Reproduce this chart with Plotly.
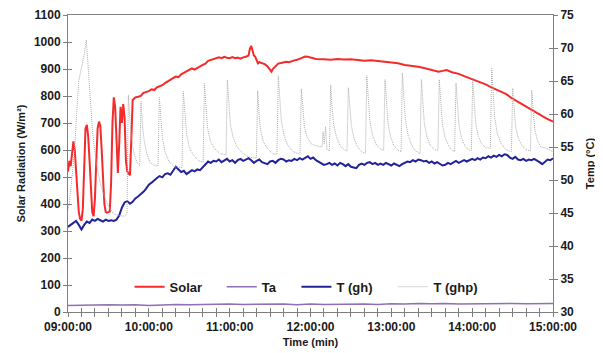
import pandas as pd
import plotly.graph_objects as go

# ---------------- data (minutes after 09:00) ----------------
solar_t = [0, 1, 2, 3, 4, 5, 6, 7, 8, 9, 10, 11, 12, 13, 14, 15, 16, 17, 18, 19, 20, 21, 22, 23, 24, 25,
           26, 27, 28, 29, 30, 31, 32, 33, 34, 35, 36, 37, 38, 39, 40, 41, 42, 43, 44, 45, 46, 47, 48, 49,
           50, 52, 54, 56, 58, 60, 62, 64, 66, 68, 70, 72, 74, 76, 78, 80, 82, 84, 86, 88, 90, 92, 94, 96,
           98, 100, 102, 104, 106, 108, 110, 112, 114, 116, 118, 120, 122, 124, 126, 128, 130, 132, 134,
           135, 136, 137, 138, 139, 140, 141, 142, 144, 146, 148, 150, 151, 152, 154, 156, 158, 160, 162,
           164, 166, 168, 170, 172, 174, 176, 178, 180, 182, 184, 190, 195, 200, 205, 210, 215, 220, 225,
           230, 235, 240, 245, 250, 255, 260, 265, 270, 275, 278, 281, 285, 290, 295, 300, 305, 310, 315,
           320, 325, 330, 335, 340, 345, 350, 355, 360]
solar_v = [520, 560, 540, 600, 632, 600, 520, 430, 370, 345, 338, 380, 560, 680, 693, 650, 560, 450, 370,
           355, 420, 560, 680, 705, 690, 600, 480, 400, 370, 368, 370, 372, 480, 700, 795, 760, 640, 515,
           620, 760, 700, 770, 720, 560, 520, 515, 507, 640, 785, 790, 795, 797, 800, 812, 816, 818, 825,
           822, 832, 835, 840, 848, 855, 860, 866, 872, 870, 880, 885, 890, 895, 902, 898, 905, 910, 915,
           920, 930, 933, 938, 940, 943, 940, 945, 942, 940, 944, 940, 942, 938, 943, 945, 950, 975, 985,
           965, 950, 945, 930, 921, 925, 922, 918, 910, 895, 890, 900, 910, 920, 922, 926, 927, 925, 930,
           932, 934, 938, 942, 946, 945, 942, 940, 937, 936, 934, 937, 935, 936, 933, 931, 932, 929, 927,
           922, 921, 915, 912, 908, 903, 897, 890, 893, 896, 888, 882, 872, 862, 855, 843, 830, 818, 808,
           790, 775, 762, 748, 730, 717, 705]

ta_t = [0, 10, 20, 30, 40, 50, 60, 70, 80, 90, 100, 110, 120, 130, 140, 150, 160, 170, 180, 190, 200,
        210, 220, 230, 240, 250, 260, 270, 280, 290, 300, 310, 320, 330, 340, 350, 360]
ta_v = [31.0, 31.05, 31.0, 31.1, 31.05, 31.1, 31.0, 31.1, 31.15, 31.1, 31.15, 31.1, 31.2, 31.15, 31.2,
        31.15, 31.2, 31.1, 31.2, 31.15, 31.2, 31.25, 31.2, 31.15, 31.25, 31.2, 31.3, 31.25, 31.3, 31.2,
        31.25, 31.3, 31.25, 31.3, 31.25, 31.3, 31.3]

gh_t = list(range(0, 362, 2))
gh_v = [42.9, 43.2, 43.6, 43.8, 43.2, 42.5, 43.2, 43.7, 43.5, 44.0, 43.8, 44.1, 43.9, 43.7, 44.0, 43.8,
        43.9, 43.8, 44.0, 44.6, 45.8, 46.6, 46.8, 46.4, 46.7, 47.2, 47.5, 47.8, 48.2, 48.7, 49.3, 49.6,
        50.0, 50.3, 50.6, 50.4, 50.9, 51.0, 50.8, 51.4, 52.0, 51.6, 51.2, 51.4, 50.9, 51.2, 51.5, 51.3,
        51.6, 51.5, 51.9, 52.4, 52.8, 52.6, 52.9, 52.8, 53.1, 52.7, 52.9, 53.2, 52.8, 53.0, 52.6, 53.0,
        53.2, 52.9, 53.1, 53.3, 53.0, 52.6, 52.9, 53.1, 52.7, 52.5, 52.4, 52.8, 52.9, 52.6, 53.0, 53.2,
        53.1, 52.8, 53.0, 52.9, 53.2, 53.0, 53.3, 53.1, 53.4, 53.6, 53.2, 53.4, 53.0, 52.8, 52.6, 52.3,
        52.4, 52.6, 52.3, 52.5, 52.2, 52.6, 52.4, 52.1, 52.4, 52.0, 51.9, 51.8, 52.3, 52.5, 52.3, 52.6,
        52.7, 52.4, 52.6, 52.3, 52.5, 52.3, 52.6, 52.4, 52.2, 52.5, 52.3, 52.1, 52.4, 52.6, 52.8, 52.7,
        53.0, 52.8, 53.1, 53.0, 52.8, 52.9, 52.6, 52.8, 52.5, 52.7, 52.4, 52.2, 52.3, 52.6, 52.4, 52.7,
        52.9, 52.6, 52.8, 53.0, 52.8, 53.0, 53.2, 53.0, 53.3, 53.1, 53.4, 53.3, 53.6, 53.4, 53.7, 53.5,
        53.8, 53.6, 53.9, 53.8, 53.4, 53.2, 53.5, 53.1, 53.0, 53.2, 52.9, 53.1, 53.0, 53.2, 53.0, 52.7,
        52.4, 52.8, 53.1, 53.0, 53.3]

ghp_t = [0, 1, 3, 5, 7, 8, 10, 12, 13.6, 15, 16.5, 18, 19.5, 21.5, 24, 27, 30, 34, 38, 42, 43.8, 44.8,
         45.8, 47, 49, 51.5, 53.2, 54.2, 55.2, 56.5, 58.5, 61, 64, 66.8, 67.8, 68.8, 70, 72, 75, 79, 84.6,
         85.6, 86.6, 88, 90, 93, 97, 100.3, 101.3, 102.3, 103.5, 105.5, 108.5, 113, 117.3, 118.3, 119.3,
         120.5, 122.5, 125.5, 130, 134, 139.8, 140.8, 141.8, 143, 145, 148, 152, 155.1, 156.1, 157.1,
         158.3, 160.3, 163, 167, 172.2, 173.2, 174.2, 175.5, 177.5, 180.5, 184, 188.5, 189.3, 190.2,
         191.2, 192.2, 194, 195, 196, 197.3, 199.3, 202, 205, 207.1, 208.1, 209.1, 210.3, 212.3, 215, 218,
         220.8, 221.8, 222.8, 224, 226, 229, 232, 234.3, 235.3, 236.3, 237.5, 239.5, 242, 245, 247.2,
         248.2, 249.2, 250.4, 252.4, 255, 258, 261.3, 262.3, 263.3, 264.5, 266.5, 269, 272, 274.6, 275.6,
         276.6, 277.8, 279.8, 282.5, 285, 287, 288, 289, 290.2, 292.2, 295, 298, 299.4, 300.4, 301.4,
         302.6, 304.6, 307, 310, 313.5, 314.5, 315.5, 316.7, 318.7, 321.5, 325, 329.1, 330.1, 331.1, 332.3,
         334.3, 337, 340, 343.2, 344.2, 345.2, 346.4, 348.4, 351, 355, 360]
ghp_v = [45.5, 46.5, 50.5, 55.0, 62.0, 65.0, 67.0, 69.0, 71.2, 66.5, 62.5, 58.0, 55.0, 52.0, 49.5, 47.5,
         46.0, 44.8, 44.6, 44.5, 45.0, 62.9, 59.5, 56.5, 54.0, 52.5, 52.2, 61.9, 58.5, 56.0, 54.0, 52.6,
         52.2, 52.1, 62.5, 59.0, 56.5, 54.3, 52.8, 52.0, 51.9, 63.4, 60.0, 57.0, 55.0, 53.8, 52.9, 52.7,
         64.6, 61.0, 58.0, 56.0, 54.8, 54.0, 53.8, 65.2, 61.5, 58.5, 56.5, 55.0, 54.0, 53.5, 53.3, 63.5,
         60.0, 57.5, 55.8, 54.8, 54.0, 53.9, 65.8, 62.0, 59.0, 56.8, 55.3, 54.3, 53.9, 63.8, 60.5, 58.0,
         56.5, 55.5, 55.2, 55.0, 57.3, 55.5, 58.1, 54.6, 54.4, 64.4, 61.0, 58.3, 56.5, 55.2, 54.6, 54.4,
         64.0, 61.0, 58.3, 56.3, 55.0, 54.3, 54.0, 65.8, 62.0, 59.0, 56.8, 55.3, 54.7, 54.5, 65.2, 61.5,
         58.7, 56.5, 55.2, 54.5, 54.3, 66.2, 62.5, 59.2, 56.8, 55.3, 54.4, 54.0, 65.2, 61.5, 58.5, 56.5,
         55.2, 54.6, 54.5, 65.2, 61.5, 58.6, 56.5, 55.2, 54.5, 54.3, 64.7, 61.0, 58.3, 56.3, 55.0, 54.5,
         54.5, 65.2, 61.5, 58.6, 56.6, 55.5, 54.9, 54.8, 66.9, 62.8, 59.5, 57.0, 55.5, 54.6, 54.3, 63.9,
         60.5, 58.0, 56.3, 55.2, 54.6, 54.4, 63.6, 60.3, 57.8, 56.0, 55.0, 54.8, 54.3]

x_tick_labels_every_min = 60
x_minor_every_min = 10

# ---------------- figure ----------------
base = pd.Timestamp("2021-01-01 09:00:00")


def to_time(mins):
    return base + pd.to_timedelta(mins, unit="m")


AX = "#7f7f7f"
FONT = "Liberation Sans"
tickfont = dict(family=FONT, size=12, color="#1a1a1a", weight="bold")
titlefont = dict(family=FONT, size=11, color="#1a1a1a", weight="bold")
legfont = dict(family=FONT, size=13, color="#1a1a1a", weight="bold")

fig = go.Figure()
fig.add_trace(go.Scatter(x=to_time(solar_t), y=solar_v, name="Solar", mode="lines",
                         line=dict(color="#f52a2a", width=2), legend="legend"))
fig.add_trace(go.Scatter(x=to_time(ta_t), y=ta_v, name="Ta", mode="lines", yaxis="y2",
                         line=dict(color="#8f6fb5", width=1.5), legend="legend2"))
fig.add_trace(go.Scatter(x=to_time(gh_t), y=gh_v, name="T (gh)", mode="lines", yaxis="y2",
                         line=dict(color="#22229a", width=2), legend="legend3"))
fig.add_trace(go.Scatter(x=to_time(ghp_t), y=ghp_v, name="T (ghp)", mode="lines", yaxis="y2",
                         line=dict(color="#adadad", width=1, dash="1px,1px"), legend="legend4"))
# empty helper traces so the inner-tick axes render
fig.add_trace(go.Scatter(x=[], y=[], xaxis="x2", yaxis="y3", showlegend=False, hoverinfo="skip"))
fig.add_trace(go.Scatter(x=[], y=[], xaxis="x2", yaxis="y4", showlegend=False, hoverinfo="skip"))


def leg(xpos):
    return dict(orientation="h", x=xpos, y=0.085, xanchor="left", yanchor="middle",
                font=legfont, bgcolor="rgba(255,255,255,0)", itemwidth=30)


xr = [to_time(0), to_time(360)]
# page body has an 8px margin, so the figure is drawn 8px in from the top-left corner
fig.update_layout(
    width=595, height=345,
    margin=dict(l=60, r=50, t=7, b=41, autoexpand=False),
    plot_bgcolor="white", paper_bgcolor="white",
    showlegend=True,
    legend=leg(0.127), legend2=leg(0.317), legend3=leg(0.471), legend4=leg(0.671),
    xaxis=dict(type="date", range=xr, tick0=to_time(0), dtick=x_tick_labels_every_min * 60000,
               tickformat="%H:%M:%S", ticks="outside", ticklen=4, tickcolor=AX,
               showline=True, linecolor=AX, linewidth=1, mirror=True, automargin=False,
               minor=dict(dtick=x_minor_every_min * 60000, tick0=to_time(0), ticks="outside",
                          ticklen=4, tickcolor=AX),
               showgrid=False, zeroline=False, tickfont=tickfont,
               title=dict(text="Time (min)", font=titlefont, standoff=4)),
    xaxis2=dict(type="date", range=xr, overlaying="x", anchor="y", side="bottom",
                tick0=to_time(0), dtick=x_minor_every_min * 60000, ticks="inside", ticklen=4,
                tickcolor=AX, showticklabels=False, showline=False, showgrid=False, zeroline=False,
                automargin=False),
    yaxis=dict(range=[0, 1100], dtick=100, ticks="outside", ticklen=4, tickcolor=AX,
               showline=True, linecolor=AX, linewidth=1, showgrid=False, zeroline=False,
               tickfont=tickfont, automargin=False,
               title=dict(text="Solar Radiation (W/m²)", font=titlefont, standoff=6)),
    yaxis2=dict(range=[30, 75], dtick=5, overlaying="y", side="right", anchor="x",
                ticks="outside", ticklen=4, tickcolor=AX, showline=True, linecolor=AX,
                linewidth=1, showgrid=False, zeroline=False, tickfont=tickfont, automargin=False,
                title=dict(text="Temp (°C)", font=titlefont, standoff=13)),
    yaxis3=dict(range=[0, 1100], dtick=100, overlaying="y", side="left", anchor="x2",
                ticks="inside", ticklen=4, tickcolor=AX, showticklabels=False, showline=False,
                showgrid=False, zeroline=False, automargin=False),
    yaxis4=dict(range=[30, 75], dtick=5, overlaying="y", side="right", anchor="x2",
                ticks="inside", ticklen=4, tickcolor=AX, showticklabels=False, showline=False,
                showgrid=False, zeroline=False, automargin=False),
)

fig.write_html("out.html")
